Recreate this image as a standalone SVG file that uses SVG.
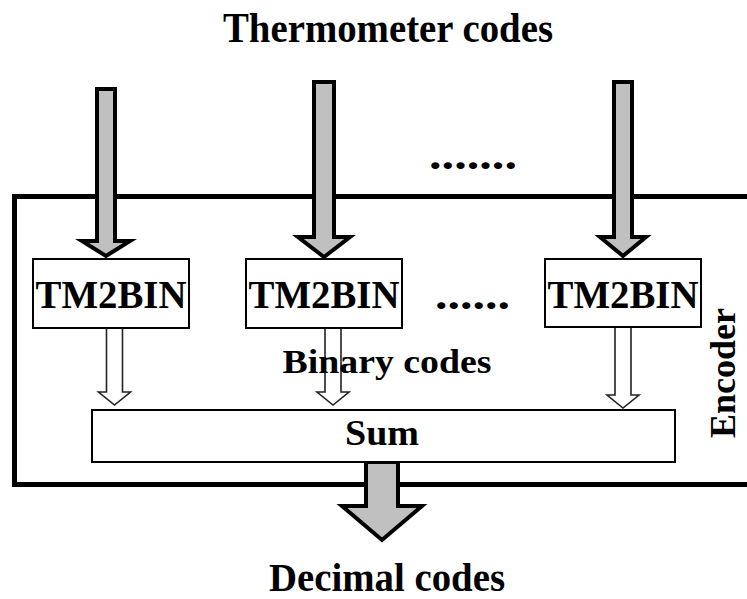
<svg xmlns="http://www.w3.org/2000/svg" width="747" height="599" viewBox="0 0 747 599">
<style>
.t{font-family:"Liberation Serif","Times New Roman",serif;font-weight:bold;fill:#000}
.box{fill:#fff;stroke:#000;stroke-width:2}
.big{fill:#c0c0c0;stroke:#000;stroke-width:4;stroke-linejoin:miter;stroke-miterlimit:10}
.hol{fill:#fff;stroke:#222;stroke-width:1.6;stroke-linejoin:miter}
</style>
<rect width="747" height="599" fill="#fff"/>
<g id="encoder">
<rect x="14.5" y="196.5" width="800" height="288" fill="none" stroke="#000" stroke-width="5"/>
<text class="t" x="735" y="373" font-size="35" text-anchor="middle" transform="rotate(-90 735 373)" textLength="130" lengthAdjust="spacingAndGlyphs">Encoder</text>
</g>
<g id="connectors">
<path class="big" d="M97,89 H115 V241 H130 L106,256 L82,241 H97 Z"/>
<path class="big" d="M314,82 H334 V237 H350 L324,257 L298,237 H314 Z"/>
<path class="big" d="M614,82 H632 V237 H646 L623,256 L600,237 H614 Z"/>
<path class="hol" d="M106.5,328 H122.5 V392 H130.5 L114.5,405 L98.5,392 H106.5 Z"/>
<path class="hol" d="M325,328 H341 V392 H349 L333,405 L317,392 H325 Z"/>
<path class="hol" d="M615,327 H631 V395 H639 L623,408 L607,395 H615 Z"/>
<path class="big" d="M366,462 H398 V506 H422 L382,540 L342,506 H366 Z"/>
</g>
<g id="tm1">
<rect class="box" x="33" y="259" width="156" height="69"/>
<text class="t" x="111" y="308" font-size="39" text-anchor="middle" textLength="151" lengthAdjust="spacingAndGlyphs">TM2BIN</text>
</g>
<g id="tm2">
<rect class="box" x="246" y="259" width="156" height="69"/>
<text class="t" x="324" y="308" font-size="39" text-anchor="middle" textLength="151" lengthAdjust="spacingAndGlyphs">TM2BIN</text>
</g>
<g id="tm3">
<rect class="box" x="545" y="259" width="156" height="68"/>
<text class="t" x="623" y="308" font-size="39" text-anchor="middle" textLength="151" lengthAdjust="spacingAndGlyphs">TM2BIN</text>
</g>
<g id="sum">
<rect class="box" x="92" y="410" width="583" height="52"/>
<text class="t" x="382" y="445" font-size="36" text-anchor="middle" textLength="74" lengthAdjust="spacingAndGlyphs">Sum</text>
</g>
<g id="labels">
<text class="t" x="388" y="42" font-size="42" text-anchor="middle" textLength="330" lengthAdjust="spacingAndGlyphs">Thermometer codes</text>
<text class="t" x="387" y="591" font-size="41" text-anchor="middle" textLength="236" lengthAdjust="spacingAndGlyphs">Decimal codes</text>
<text class="t" x="387" y="373" font-size="34" text-anchor="middle" textLength="209" lengthAdjust="spacingAndGlyphs">Binary codes</text>
<text class="t" x="473" y="169" font-size="42" text-anchor="middle" textLength="88" lengthAdjust="spacingAndGlyphs">.......</text>
<text class="t" x="472.5" y="309" font-size="42" text-anchor="middle" textLength="75" lengthAdjust="spacingAndGlyphs">......</text>
</g>
</svg>
